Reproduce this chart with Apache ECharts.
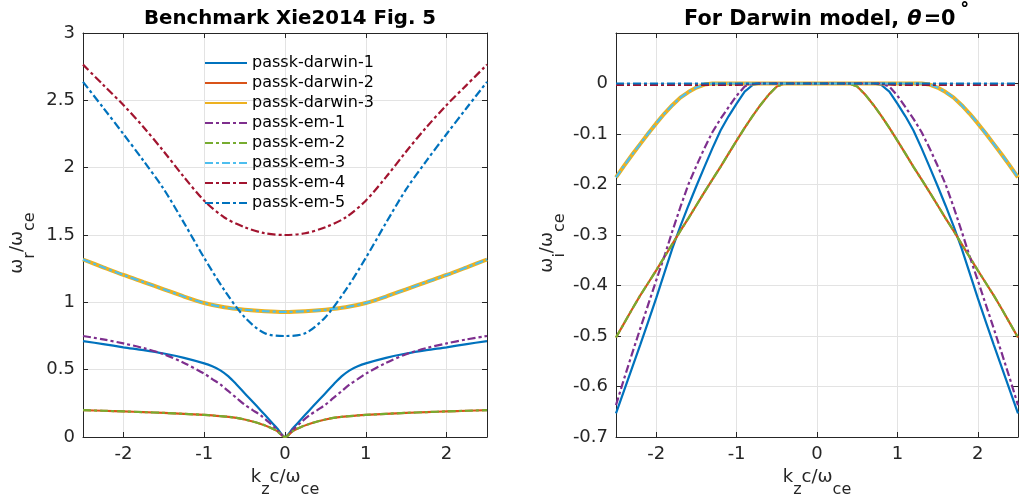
<!DOCTYPE html>
<html>
<head>
<meta charset="utf-8">
<script src="https://cdn.jsdelivr.net/npm/echarts@6/dist/echarts.min.js"></script>
<style>html,body{margin:0;padding:0;background:#fff;}#c{width:1021px;height:504px;}</style>
</head>
<body>
<div id="c"></div>
<script>
// ---------- DATA (positive half of k; curves are symmetric in k) ----------
const seriesNames = ['passk-darwin-1','passk-darwin-2','passk-darwin-3','passk-em-1','passk-em-2','passk-em-3','passk-em-4','passk-em-5'];

// Left panel: real frequency omega_r / omega_ce
const kR_fine = [0,0.1,0.2,0.3,0.4,0.5,0.6,0.7,0.8,0.9,1.0,1.25,1.5,1.75,2.0,2.25,2.5];
const wr_darwin1 = [0,0.066,0.132,0.197,0.262,0.325,0.39,0.45,0.495,0.525,0.547,0.588,0.62,0.645,0.666,0.69,0.712];
const wr_em1     = [0,0.055,0.11,0.16,0.2,0.24,0.29,0.34,0.39,0.43,0.47,0.55,0.615,0.66,0.695,0.725,0.75];
const wr_darwin2 = [0,0.045,0.075,0.097,0.115,0.13,0.142,0.15,0.155,0.16,0.164,0.172,0.179,0.185,0.19,0.195,0.199];
const wr_em2     = [0,0.045,0.075,0.097,0.115,0.13,0.142,0.15,0.155,0.16,0.164,0.172,0.179,0.185,0.19,0.195,0.199];
const kR_coarse = [0,0.25,0.5,0.75,1.0,1.25,1.5,1.75,2.0,2.25,2.5];
const wr_darwin3 = [0.929,0.934,0.945,0.963,0.995,1.043,1.097,1.15,1.203,1.26,1.318];
const wr_em3     = [0.929,0.934,0.945,0.963,0.995,1.043,1.097,1.15,1.203,1.26,1.318];
const wr_em4     = [1.5,1.513,1.558,1.63,1.755,1.93,2.12,2.3,2.465,2.615,2.765];
const wr_em5     = [0.75,0.77,0.89,1.09,1.33,1.59,1.84,2.05,2.25,2.445,2.637];

// Right panel: growth rate omega_i / omega_ce
const kI = [0,0.1,0.2,0.3,0.4,0.5,0.6,0.7,0.8,0.9,1.0,1.1,1.2,1.3,1.4,1.5,1.6,1.7,1.8,1.9,2.0,2.1,2.2,2.3,2.4,2.5];
const wi_darwin1 = [0,0,0,0,0,0,0,0,-0.003,-0.016,-0.04,-0.065,-0.093,-0.128,-0.165,-0.203,-0.242,-0.283,-0.327,-0.376,-0.425,-0.472,-0.518,-0.563,-0.608,-0.653];
const wi_darwin2 = [0,0,0,0,0,-0.006,-0.022,-0.042,-0.064,-0.088,-0.113,-0.139,-0.165,-0.19,-0.215,-0.241,-0.267,-0.292,-0.318,-0.344,-0.37,-0.395,-0.42,-0.447,-0.475,-0.503];
const wi_darwin3 = [0,0,0,0,0,0,0,0,0,0,0,0,0,0,-0.002,-0.008,-0.017,-0.028,-0.043,-0.06,-0.079,-0.099,-0.12,-0.141,-0.163,-0.186];
const wi_em1     = [0,0,0,0,0,0,0,0,0,-0.006,-0.024,-0.047,-0.07,-0.096,-0.128,-0.163,-0.2,-0.245,-0.293,-0.343,-0.39,-0.438,-0.486,-0.535,-0.585,-0.637];
const wi_em2     = [0,0,0,0,0,-0.006,-0.022,-0.042,-0.064,-0.088,-0.113,-0.139,-0.165,-0.19,-0.215,-0.241,-0.267,-0.292,-0.318,-0.344,-0.37,-0.395,-0.42,-0.447,-0.475,-0.503];
const wi_em3     = [0,0,0,0,0,0,0,0,0,0,0,0,0,0,-0.002,-0.008,-0.017,-0.028,-0.043,-0.06,-0.079,-0.099,-0.12,-0.141,-0.163,-0.186];
const wi_em4     = [0,0,0,0,0,0,0,0,-0.001,-0.002,-0.003,-0.003,-0.003,-0.003,-0.003,-0.003,-0.003,-0.003,-0.003,-0.003,-0.003,-0.003,-0.003,-0.003,-0.003,-0.003];
const wi_em5     = [0,0,0,0,0,0,0,0,0,0,0,0,0,0,0,0,0,0,0,0,0,0,0,0,0,0];

const xTicks = [-2,-1,0,1,2];

// ---------- STYLE ----------
const FONT = 'DejaVu Sans';
const INK = '#262626';
const colors = ['#0072BD','#D95319','#EDB120','#7E2F8E','#77AC30','#4DBEEE','#A2142F','#0072BD'];
const widths = [2.2,2.2,4,2.2,2.2,2.2,2.2,2.2];
const DASHDOT = [8,3,3,3];
const types = ['solid','solid','solid',DASHDOT,DASHDOT,DASHDOT,DASHDOT,DASHDOT];

function mirror(ks, vs) {
  const out = [];
  for (let i = ks.length - 1; i >= 1; i--) out.push([-ks[i], vs[i]]);
  for (let i = 0; i < ks.length; i++) out.push([ks[i], vs[i]]);
  return out;
}

const leftData = [
  mirror(kR_fine, wr_darwin1), mirror(kR_fine, wr_darwin2), mirror(kR_coarse, wr_darwin3),
  mirror(kR_fine, wr_em1), mirror(kR_fine, wr_em2), mirror(kR_coarse, wr_em3),
  mirror(kR_coarse, wr_em4), mirror(kR_coarse, wr_em5)
];
const rightData = [
  mirror(kI, wi_darwin1), mirror(kI, wi_darwin2), mirror(kI, wi_darwin3),
  mirror(kI, wi_em1), mirror(kI, wi_em2), mirror(kI, wi_em3),
  mirror(kI, wi_em4), mirror(kI, wi_em5)
];

const subRich = {
  m: {fontFamily: FONT, fontSize: 18, color: INK, padding: [0,0,13,0]},
  s: {fontFamily: FONT, fontSize: 16, color: INK, padding: [13,0,0,0]}
};

function xAxisMain(gridIndex) {
  return {
    type: 'value', gridIndex, min: -2.5, max: 2.5, splitNumber: 5,
    axisLine: {show: true, onZero: false, lineStyle: {color: INK, width: 1}},
    axisTick: {show: true, inside: true, length: 5, lineStyle: {color: INK}},
    axisLabel: {fontFamily: FONT, fontSize: 18, color: INK, margin: 8,
      formatter: v => (xTicks.indexOf(v) >= 0 ? String(v) : '')},
    splitLine: {show: true, lineStyle: {color: '#e3e3e3', width: 1}},
    name: '{m|k}{s|z}{m|c/ω}{s|ce}', nameLocation: 'middle', nameGap: 27,
    nameTextStyle: {rich: subRich}
  };
}
function xAxisTop(gridIndex) {
  return {
    type: 'value', gridIndex, position: 'top', min: -2.5, max: 2.5, splitNumber: 5,
    axisLine: {show: true, onZero: false, lineStyle: {color: INK, width: 1}},
    axisTick: {show: true, inside: true, length: 5, lineStyle: {color: INK}},
    axisLabel: {show: false}, splitLine: {show: false}
  };
}
function yAxisRight(gridIndex, min, max, interval) {
  return {
    type: 'value', gridIndex, position: 'right', min, max, interval,
    axisLine: {show: true, onZero: false, lineStyle: {color: INK, width: 1}},
    axisTick: {show: true, inside: true, length: 5, lineStyle: {color: INK}},
    axisLabel: {show: false}, splitLine: {show: false}
  };
}

const series = [];
for (let g = 0; g < 2; g++) {
  const data = g === 0 ? leftData : rightData;
  for (let i = 0; i < seriesNames.length; i++) {
    series.push({
      name: seriesNames[i], type: 'line', xAxisIndex: g * 2, yAxisIndex: g * 2,
      data: data[i], symbol: 'none', showSymbol: false,
      smooth: g === 0 ? 0.3 : false,
      lineStyle: {color: colors[i], width: widths[i], type: types[i]},
      itemStyle: {color: colors[i]}, animation: false, clip: true
    });
  }
}

const option = {
  animation: false,
  backgroundColor: '#fff',
  title: [
    {text: 'Benchmark Xie2014 Fig. 5', left: 285, top: 4, textAlign: 'center',
     textStyle: {fontFamily: FONT, fontSize: 19.8, fontWeight: 'bold', color: '#000'}},
    {text: '{b|For Darwin model, }{i|θ}{b|=0}{sup|˚}', left: 822, top: -1, textAlign: 'center',
     textStyle: {rich: {
       b: {fontFamily: FONT, fontSize: 20.8, fontWeight: 'bold', color: '#000'},
       i: {fontFamily: FONT, fontSize: 20.8, fontStyle: 'italic', color: '#000', padding: [0,2,0,1]},
       sup: {fontFamily: FONT, fontSize: 20.8, fontWeight: 'bold', color: '#000', padding: [0,0,10,4]}
     }}}
  ],
  legend: {
    data: seriesNames, orient: 'vertical', left: 199, top: 48,
    itemWidth: 42, itemHeight: 12, itemGap: 0,
    itemStyle: {opacity: 0},
    textStyle: {fontFamily: FONT, fontSize: 16, color: '#000', lineHeight: 20}
  },
  grid: [
    {left: 83, top: 33, width: 404, height: 404, containLabel: false},
    {left: 616, top: 33, width: 404, height: 404, containLabel: false}
  ],
  xAxis: [xAxisMain(0), xAxisTop(0), xAxisMain(1), xAxisTop(1)],
  yAxis: [
    {type: 'value', gridIndex: 0, min: 0, max: 3, interval: 0.5,
     axisLine: {show: true, onZero: false, lineStyle: {color: INK, width: 1}},
     axisTick: {show: true, inside: true, length: 5, lineStyle: {color: INK}},
     axisLabel: {fontFamily: FONT, fontSize: 18, color: INK, margin: 8},
     splitLine: {show: true, lineStyle: {color: '#e3e3e3', width: 1}},
     name: '{m|ω}{s|r}{m|/ω}{s|ce}', nameLocation: 'middle', nameGap: 44, nameRotate: 90,
     nameTextStyle: {rich: subRich, padding: [0,16,0,0]}},
    yAxisRight(0, 0, 3, 0.5),
    {type: 'value', gridIndex: 1, min: -0.7, max: 0.1, interval: 0.1,
     axisLine: {show: true, onZero: false, lineStyle: {color: INK, width: 1}},
     axisTick: {show: true, inside: true, length: 5, lineStyle: {color: INK}},
     axisLabel: {fontFamily: FONT, fontSize: 18, color: INK, margin: 8,
       formatter: v => (v > 0.05 ? '' : (Math.abs(v) < 1e-9 ? '0' : v.toFixed(1)))},
     splitLine: {show: true, lineStyle: {color: '#e3e3e3', width: 1}},
     name: '{m|ω}{s|i}{m|/ω}{s|ce}', nameLocation: 'middle', nameGap: 47, nameRotate: 90,
     nameTextStyle: {rich: subRich, padding: [0,16,0,0]}},
    yAxisRight(1, -0.7, 0.1, 0.1)
  ],
  series
};

const chart = echarts.init(document.getElementById('c'), null, {renderer: 'canvas'});
chart.setOption(option);
</script>
</body>
</html>
